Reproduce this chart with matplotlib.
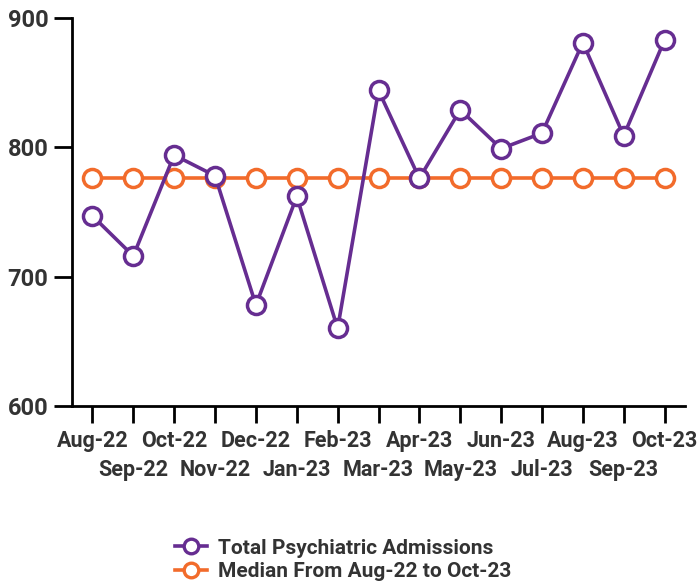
import matplotlib
matplotlib.use("Agg")
import matplotlib.pyplot as plt
from matplotlib.ticker import FixedLocator, FixedFormatter

# данные
months = ["Aug-22", "Sep-22", "Oct-22", "Nov-22", "Dec-22", "Jan-23", "Feb-23",
          "Mar-23", "Apr-23", "May-23", "Jun-23", "Jul-23", "Aug-23", "Sep-23", "Oct-23"]
admissions = [747, 716, 794, 778, 678, 762, 660, 844, 776, 829, 799, 811, 881, 809, 883]
median_val = [776] * len(months)

PURPLE = "#662d91"
ORANGE = "#f26b2b"
TEXT = "#333333"

plt.rcParams["font.family"] = ["Roboto", "DejaVu Sans"]
plt.rcParams["font.weight"] = "bold"

fig = plt.figure(figsize=(7, 5.85), dpi=100)
ax = fig.add_axes([72 / 700, 1 - 406 / 585, 613 / 700, 388 / 585])

x = list(range(len(months)))
mk = dict(marker="o", markersize=13, markerfacecolor="white", markeredgewidth=2.5)
ax.plot(x, median_val, color=ORANGE, lw=2.6, markeredgecolor=ORANGE, zorder=3, **mk,
        label="Median From Aug-22 to Oct-23")
ax.plot(x, admissions, color=PURPLE, lw=2.6, markeredgecolor=PURPLE, zorder=4, **mk,
        label="Total Psychiatric Admissions")

ax.set_xlim(-0.5, len(months) - 0.5)
ax.set_ylim(600, 900)
ax.set_yticks([600, 700, 800, 900])

# подписи в два ряда: чётные месяцы — основные, нечётные — второстепенные тики
ax.xaxis.set_major_locator(FixedLocator(x[0::2]))
ax.xaxis.set_major_formatter(FixedFormatter(months[0::2]))
ax.xaxis.set_minor_locator(FixedLocator(x[1::2]))
ax.xaxis.set_minor_formatter(FixedFormatter(months[1::2]))

for s in ["top", "right"]:
    ax.spines[s].set_visible(False)
for s in ["left", "bottom"]:
    ax.spines[s].set_linewidth(2)
ax.tick_params(axis="y", length=13, width=2, labelsize=17, pad=4, labelcolor=TEXT)
ax.tick_params(axis="x", which="both", length=12.5, width=2, labelsize=15.5, labelcolor=TEXT)
ax.tick_params(axis="x", which="major", pad=5)
ax.tick_params(axis="x", which="minor", pad=26)
for ln in ax.lines:
    ln.set_clip_on(False)

h, l = ax.get_legend_handles_labels()
leg = fig.legend(h[::-1], l[::-1], loc="upper center", bbox_to_anchor=(0.49, 0.097),
                 frameon=False, fontsize=15, handlelength=1.55, handletextpad=0.5,
                 labelspacing=0.22, labelcolor=TEXT, borderpad=0)
for lh in leg.legend_handles:
    lh.set_markersize(10.5)
    lh.set_markeredgewidth(2.4)

fig.savefig("out.png", dpi=100)
